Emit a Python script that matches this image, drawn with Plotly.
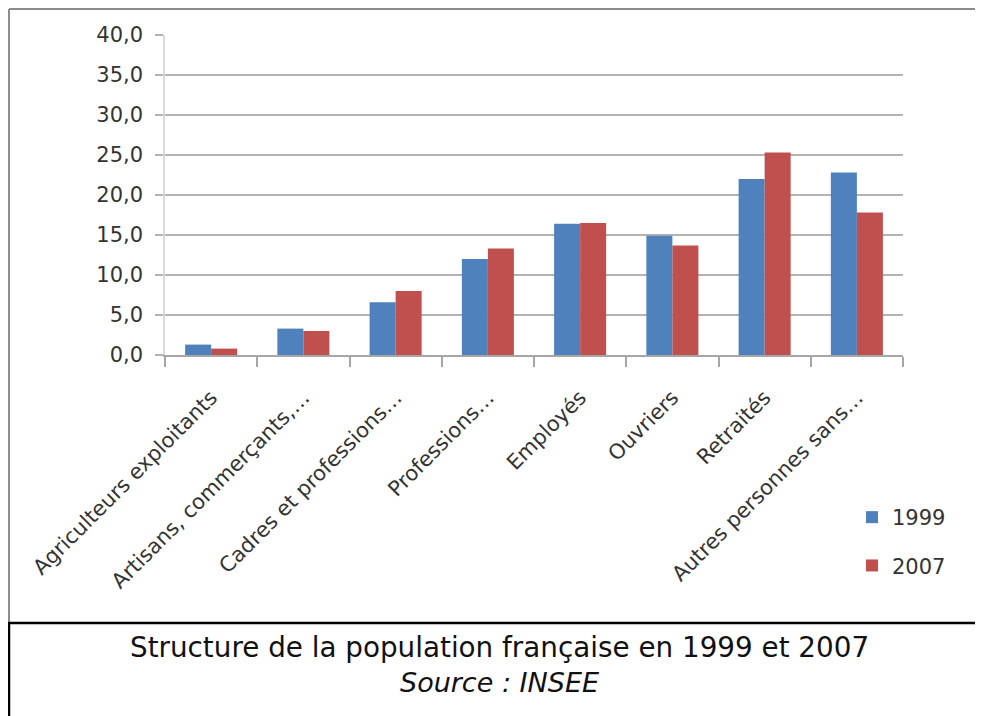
import plotly.graph_objects as go

categories = [
    "Agriculteurs exploitants",
    "Artisans, commerçants,…",
    "Cadres et professions…",
    "Professions…",
    "Employés",
    "Ouvriers",
    "Retraités",
    "Autres personnes sans…",
]
values_1999 = [1.3, 3.3, 6.6, 12.0, 16.4, 14.9, 22.0, 22.8]
values_2007 = [0.8, 3.0, 8.0, 13.3, 16.5, 13.7, 25.3, 17.8]
series_names = ["1999", "2007"]
y_ticks = [0, 5, 10, 15, 20, 25, 30, 35, 40]
caption_line1 = "Structure de la population française en 1999 et 2007"
caption_line2 = "Source : INSEE"

# page body has an 8px margin: figure is placed at (8, 8)
OFF = 8
W, H = 983 - OFF, 716 - OFF
FONT = "DejaVu Sans"

def px(x):
    return (x - OFF) / W

def py(y):
    return 1 - (y - OFF) / H

fig = go.Figure()
fig.add_trace(go.Bar(x=categories, y=values_1999, name=series_names[0],
                     marker=dict(color="#4f81bd", line=dict(width=0)),
                     legendgroup="a"))
fig.add_trace(go.Bar(x=categories, y=values_2007, name=series_names[1],
                     marker=dict(color="#c0504d", line=dict(width=0)),
                     legendgroup="b"))

fig.update_layout(
    width=W, height=H,
    margin=dict(l=0, r=0, t=0, b=0, autoexpand=False),
    paper_bgcolor="white", plot_bgcolor="white",
    separators=", ",
    barmode="group", bargap=0.436, bargroupgap=0,
    font=dict(family=FONT, color="#333333", size=21),
    showlegend=True,
    legend=dict(x=px(852), y=py(497), xanchor="left", yanchor="top",
                font=dict(size=21, family=FONT, color="#333333"),
                tracegroupgap=18, bgcolor="rgba(0,0,0,0)"),
    xaxis=dict(domain=[px(165), px(903)], type="category", automargin=False,
               tickangle=-45, ticks="outside", tickson="boundaries",
               ticklen=10, tickcolor="#a6a6a6", tickwidth=2,
               ticklabelstandoff=20,
               showline=True, linecolor="#a6a6a6", linewidth=2,
               showgrid=False, tickfont=dict(size=21, family=FONT, color="#333333")),
    yaxis=dict(domain=[py(355), py(35)], range=[0, 40], tickvals=y_ticks,
               automargin=False,
               tickformat=".1f", ticks="outside", ticklen=8,
               tickcolor="#b3b3b3", tickwidth=2, ticklabelstandoff=8,
               showline=True, linecolor="#d9d9d9", linewidth=1.5,
               showgrid=True, gridcolor="#b3b3b3", gridwidth=2,
               zeroline=False,
               tickfont=dict(size=21, family=FONT, color="#333333")),
    shapes=[
        dict(type="line", xref="paper", yref="paper", x0=px(9), x1=px(995),
             y0=py(9), y1=py(9), line=dict(color="#8c8c8c", width=2)),
        dict(type="line", xref="paper", yref="paper", x0=px(9), x1=px(9),
             y0=py(9), y1=py(623), line=dict(color="#8c8c8c", width=2)),
        dict(type="rect", xref="paper", yref="paper", x0=px(9), x1=px(995),
             y0=py(623), y1=py(730), line=dict(color="#000000", width=2.5),
             fillcolor="rgba(0,0,0,0)"),
    ],
    annotations=[
        dict(text=caption_line1, xref="paper", yref="paper", x=px(499), y=py(647),
             xanchor="center", yanchor="middle", showarrow=False,
             font=dict(family="DejaVu Sans", size=27.8, color="#111111")),
        dict(text="<i>" + caption_line2 + "</i>", xref="paper", yref="paper",
             x=px(499), y=py(682), xanchor="center", yanchor="middle", showarrow=False,
             font=dict(family="DejaVu Sans", size=27, color="#111111")),
    ],
)

fig.write_html("out.html")
